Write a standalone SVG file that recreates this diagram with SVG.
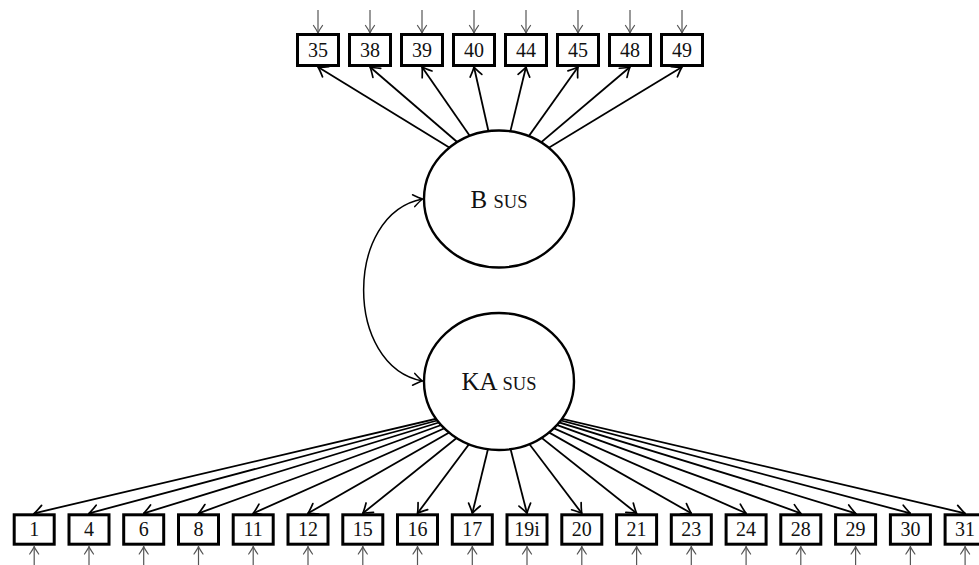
<svg xmlns="http://www.w3.org/2000/svg" width="979" height="565" viewBox="0 0 979 565">
  <style>
    .box { fill: #fff; stroke: #000; stroke-width: 3; }
    .lat { fill: #fff; stroke: #000; stroke-width: 2.4; }
    .num { font-family: "Liberation Serif", "DejaVu Serif", serif; font-size: 20px; text-anchor: middle; fill: #111; }
    .lab { font-family: "Liberation Serif", "DejaVu Serif", serif; font-size: 25px; text-anchor: middle; fill: #111; }
    .sc { font-size: 18.5px; }
    .load { fill: none; stroke: #000; stroke-width: 1.8; marker-end: url(#head); }
    .err { fill: none; stroke: #555; stroke-width: 1.2; marker-end: url(#ehead); }
    .cov { fill: none; stroke: #000; stroke-width: 1.5; marker-start: url(#chead); marker-end: url(#chead); }
  </style>
  <defs>
    <marker id="head" viewBox="-11 -8 12 16" refX="0" refY="0" markerWidth="12" markerHeight="16" orient="auto" markerUnits="userSpaceOnUse">
      <path d="M-9,-6 Q-3,-1.5 0,0 Q-3,1.5 -9,6" fill="none" stroke="#000" stroke-width="1.7" stroke-linecap="round"/>
    </marker>
    <marker id="chead" viewBox="-11 -8 12 16" refX="0" refY="0" markerWidth="12" markerHeight="16" orient="auto-start-reverse" markerUnits="userSpaceOnUse">
      <path d="M-9,-6 Q-3,-1.5 0,0 Q-3,1.5 -9,6" fill="none" stroke="#000" stroke-width="1.5" stroke-linecap="round"/>
    </marker>
    <marker id="ehead" viewBox="-9 -6 10 12" refX="0" refY="0" markerWidth="10" markerHeight="12" orient="auto" markerUnits="userSpaceOnUse">
      <path d="M-7.5,-4.5 Q-2.5,-1 0,0 Q-2.5,1 -7.5,4.5" fill="none" stroke="#555" stroke-width="1.2" stroke-linecap="round"/>
    </marker>
  </defs>

  <!-- connectors: loadings aim at a point just inside each latent and are masked by the ellipse drawn above them -->
  <g id="connectors">
    <!-- B sus loadings -->
    <path class="load" d="M499,178 L318,67"/>
    <path class="load" d="M499,178 L370,67"/>
    <path class="load" d="M499,178 L422,67"/>
    <path class="load" d="M499,178 L474,67"/>
    <path class="load" d="M499,178 L526,67"/>
    <path class="load" d="M499,178 L578,67"/>
    <path class="load" d="M499,178 L630,67"/>
    <path class="load" d="M499,178 L682,67"/>
    <!-- KA sus loadings -->
    <path class="load" d="M499,404 L34.2,513.3"/>
    <path class="load" d="M499,404 L89,513.3"/>
    <path class="load" d="M499,404 L143.7,513.3"/>
    <path class="load" d="M499,404 L198.5,513.3"/>
    <path class="load" d="M499,404 L253.2,513.3"/>
    <path class="load" d="M499,404 L308,513.3"/>
    <path class="load" d="M499,404 L362.8,513.3"/>
    <path class="load" d="M499,404 L417.5,513.3"/>
    <path class="load" d="M499,404 L472.3,513.3"/>
    <path class="load" d="M499,404 L527,513.3"/>
    <path class="load" d="M499,404 L581.8,513.3"/>
    <path class="load" d="M499,404 L636.6,513.3"/>
    <path class="load" d="M499,404 L691.3,513.3"/>
    <path class="load" d="M499,404 L746.1,513.3"/>
    <path class="load" d="M499,404 L800.8,513.3"/>
    <path class="load" d="M499,404 L855.6,513.3"/>
    <path class="load" d="M499,404 L910.4,513.3"/>
    <path class="load" d="M499,404 L965.1,513.3"/>
    <!-- covariance -->
    <path class="cov" d="M422.5,199 C344,214 344,366 422.5,381"/>
    <!-- residual terms, top -->
    <path class="err" d="M318,10 L318,33"/>
    <path class="err" d="M370,10 L370,33"/>
    <path class="err" d="M422,10 L422,33"/>
    <path class="err" d="M474,10 L474,33"/>
    <path class="err" d="M526,10 L526,33"/>
    <path class="err" d="M578,10 L578,33"/>
    <path class="err" d="M630,10 L630,33"/>
    <path class="err" d="M682,10 L682,33"/>
    <!-- residual terms, bottom -->
    <path class="err" d="M34.2,566 L34.2,546.5"/>
    <path class="err" d="M89,566 L89,546.5"/>
    <path class="err" d="M143.7,566 L143.7,546.5"/>
    <path class="err" d="M198.5,566 L198.5,546.5"/>
    <path class="err" d="M253.2,566 L253.2,546.5"/>
    <path class="err" d="M308,566 L308,546.5"/>
    <path class="err" d="M362.8,566 L362.8,546.5"/>
    <path class="err" d="M417.5,566 L417.5,546.5"/>
    <path class="err" d="M472.3,566 L472.3,546.5"/>
    <path class="err" d="M527,566 L527,546.5"/>
    <path class="err" d="M581.8,566 L581.8,546.5"/>
    <path class="err" d="M636.6,566 L636.6,546.5"/>
    <path class="err" d="M691.3,566 L691.3,546.5"/>
    <path class="err" d="M746.1,566 L746.1,546.5"/>
    <path class="err" d="M800.8,566 L800.8,546.5"/>
    <path class="err" d="M855.6,566 L855.6,546.5"/>
    <path class="err" d="M910.4,566 L910.4,546.5"/>
    <path class="err" d="M965.1,566 L965.1,546.5"/>
  </g>

  <!-- latent variables -->
  <g id="B_sus">
    <ellipse class="lat" cx="499" cy="199" rx="75" ry="68.5"/>
    <text class="lab" x="499" y="208">B <tspan class="sc">SUS</tspan></text>
  </g>
  <g id="KA_sus">
    <ellipse class="lat" cx="499" cy="381.5" rx="75" ry="68.5"/>
    <text class="lab" x="499" y="390">KA <tspan class="sc">SUS</tspan></text>
  </g>

  <!-- indicators of B sus -->
  <g id="i35"><rect class="box" x="297.5" y="34.5" width="41" height="31"/><text class="num" x="318" y="57.3">35</text></g>
  <g id="i38"><rect class="box" x="349.5" y="34.5" width="41" height="31"/><text class="num" x="370" y="57.3">38</text></g>
  <g id="i39"><rect class="box" x="401.5" y="34.5" width="41" height="31"/><text class="num" x="422" y="57.3">39</text></g>
  <g id="i40"><rect class="box" x="453.5" y="34.5" width="41" height="31"/><text class="num" x="474" y="57.3">40</text></g>
  <g id="i44"><rect class="box" x="505.5" y="34.5" width="41" height="31"/><text class="num" x="526" y="57.3">44</text></g>
  <g id="i45"><rect class="box" x="557.5" y="34.5" width="41" height="31"/><text class="num" x="578" y="57.3">45</text></g>
  <g id="i48"><rect class="box" x="609.5" y="34.5" width="41" height="31"/><text class="num" x="630" y="57.3">48</text></g>
  <g id="i49"><rect class="box" x="661.5" y="34.5" width="41" height="31"/><text class="num" x="682" y="57.3">49</text></g>

  <!-- indicators of KA sus -->
  <g id="i1"><rect class="box" x="14.2" y="514.8" width="40" height="29.4"/><text class="num" x="34.2" y="536.3">1</text></g>
  <g id="i4"><rect class="box" x="69" y="514.8" width="40" height="29.4"/><text class="num" x="89" y="536.3">4</text></g>
  <g id="i6"><rect class="box" x="123.7" y="514.8" width="40" height="29.4"/><text class="num" x="143.7" y="536.3">6</text></g>
  <g id="i8"><rect class="box" x="178.5" y="514.8" width="40" height="29.4"/><text class="num" x="198.5" y="536.3">8</text></g>
  <g id="i11"><rect class="box" x="233.2" y="514.8" width="40" height="29.4"/><text class="num" x="253.2" y="536.3">11</text></g>
  <g id="i12"><rect class="box" x="288" y="514.8" width="40" height="29.4"/><text class="num" x="308" y="536.3">12</text></g>
  <g id="i15"><rect class="box" x="342.8" y="514.8" width="40" height="29.4"/><text class="num" x="362.8" y="536.3">15</text></g>
  <g id="i16"><rect class="box" x="397.5" y="514.8" width="40" height="29.4"/><text class="num" x="417.5" y="536.3">16</text></g>
  <g id="i17"><rect class="box" x="452.3" y="514.8" width="40" height="29.4"/><text class="num" x="472.3" y="536.3">17</text></g>
  <g id="i19i"><rect class="box" x="507" y="514.8" width="40" height="29.4"/><text class="num" x="527" y="536.3">19i</text></g>
  <g id="i20"><rect class="box" x="561.8" y="514.8" width="40" height="29.4"/><text class="num" x="581.8" y="536.3">20</text></g>
  <g id="i21"><rect class="box" x="616.6" y="514.8" width="40" height="29.4"/><text class="num" x="636.6" y="536.3">21</text></g>
  <g id="i23"><rect class="box" x="671.3" y="514.8" width="40" height="29.4"/><text class="num" x="691.3" y="536.3">23</text></g>
  <g id="i24"><rect class="box" x="726.1" y="514.8" width="40" height="29.4"/><text class="num" x="746.1" y="536.3">24</text></g>
  <g id="i28"><rect class="box" x="780.8" y="514.8" width="40" height="29.4"/><text class="num" x="800.8" y="536.3">28</text></g>
  <g id="i29"><rect class="box" x="835.6" y="514.8" width="40" height="29.4"/><text class="num" x="855.6" y="536.3">29</text></g>
  <g id="i30"><rect class="box" x="890.4" y="514.8" width="40" height="29.4"/><text class="num" x="910.4" y="536.3">30</text></g>
  <g id="i31"><rect class="box" x="945.1" y="514.8" width="40" height="29.4"/><text class="num" x="965.1" y="536.3">31</text></g>
</svg>
